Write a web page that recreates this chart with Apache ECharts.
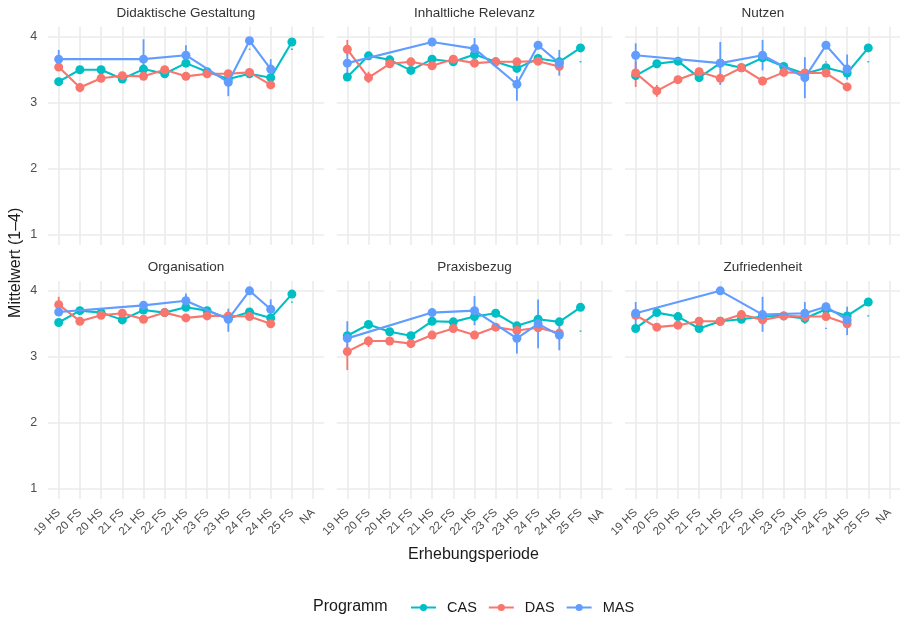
<!DOCTYPE html>
<html><head><meta charset="utf-8">
<script src="https://cdn.jsdelivr.net/npm/echarts@6/dist/echarts.min.js"></script>
<style>html,body{margin:0;padding:0;background:#fff}#c{width:900px;height:617px}</style>
</head><body><div id="c"></div>
<script>
// ---------- DATA ----------
const categories = ['19 HS','20 FS','20 HS','21 FS','21 HS','22 FS','22 HS','23 FS','23 HS','24 FS','24 HS','25 FS','NA'];
const programs = ['CAS','DAS','MAS'];
const facetTitles = ['Didaktische Gestaltung','Inhaltliche Relevanz','Nutzen','Organisation','Praxisbezug','Zufriedenheit'];
const yTicks = [1,2,3,4];

const didaktikCAS = [3.32,3.50,3.50,3.36,3.51,3.44,3.60,3.47,3.36,3.44,3.38,3.92,null];
const didaktikDAS = [3.54,3.23,3.37,3.41,3.40,3.50,3.40,3.44,3.44,3.46,3.27,null,null];
const didaktikMAS = [3.66,null,null,null,3.66,null,3.72,null,3.31,3.94,3.51,null,null];

const relevanzCAS = [3.39,3.71,3.65,3.49,3.66,3.62,3.73,3.62,3.52,3.67,3.62,3.83,null];
const relevanzDAS = [3.81,3.38,3.59,3.62,3.56,3.66,3.60,3.62,3.62,3.63,3.55,null,null];
const relevanzMAS = [3.60,null,null,null,3.92,null,3.82,null,3.28,3.87,3.60,null,null];

const nutzenCAS = [3.41,3.59,3.63,3.38,3.60,3.53,3.68,3.55,3.44,3.53,3.45,3.83,null];
const nutzenDAS = [3.45,3.18,3.35,3.47,3.37,3.53,3.33,3.46,3.45,3.45,3.24,null,null];
const nutzenMAS = [3.72,null,null,null,3.60,null,3.72,null,3.38,3.87,3.51,null,null];

const organisationCAS = [3.52,3.70,3.67,3.56,3.71,3.67,3.75,3.70,3.58,3.68,3.59,3.95,null];
const organisationDAS = [3.79,3.54,3.63,3.66,3.57,3.67,3.59,3.62,3.62,3.61,3.50,null,null];
const organisationMAS = [3.68,null,null,null,3.78,null,3.85,null,3.57,4.00,3.72,null,null];

const praxisCAS = [3.32,3.49,3.38,3.32,3.54,3.53,3.61,3.66,3.47,3.57,3.53,3.75,null];
const praxisDAS = [3.08,3.24,3.24,3.20,3.33,3.43,3.33,3.45,3.40,3.44,3.36,null,null];
const praxisMAS = [3.28,null,null,null,3.67,null,3.70,null,3.28,3.50,3.33,null,null];

const zufriedenCAS = [3.43,3.67,3.61,3.43,3.54,3.57,3.61,3.62,3.58,3.72,3.62,3.83,null];
const zufriedenDAS = [3.63,3.45,3.48,3.54,3.54,3.64,3.56,3.62,3.61,3.61,3.50,null,null];
const zufriedenMAS = [3.66,null,null,null,4.00,null,3.64,null,3.66,3.76,3.56,null,null];

// error bars: [program, category, lower, upper]
const didaktikErr = [['MAS','19 HS',3.55,3.80],['MAS','21 HS',3.39,3.96],['MAS','22 HS',3.60,3.87],['MAS','23 HS',3.10,3.42],['MAS','24 FS',3.80,3.82],['MAS','24 HS',3.37,3.66],['CAS','25 FS',3.80,3.82],['DAS','20 FS',3.16,3.30]];
const relevanzErr = [['MAS','19 HS',3.40,3.80],['MAS','22 HS',3.72,3.98],['MAS','23 HS',3.03,3.40],['MAS','24 HS',3.41,3.80],['DAS','19 HS',3.72,3.95],['DAS','20 FS',3.30,3.47],['CAS','19 HS',3.33,3.45],['CAS','21 HS',3.60,3.72],['CAS','25 FS',3.61,3.63]];
const nutzenErr = [['MAS','19 HS',3.35,3.90],['MAS','21 HS',3.27,3.92],['MAS','22 HS',3.49,3.95],['MAS','23 HS',3.07,3.69],['MAS','24 FS',3.61,3.63],['MAS','24 HS',3.35,3.73],['DAS','19 HS',3.24,3.62],['DAS','20 FS',3.09,3.27],['CAS','25 FS',3.61,3.63]];
const organisationErr = [['MAS','22 HS',3.75,3.96],['MAS','23 HS',3.38,3.73],['MAS','24 HS',3.61,3.87],['DAS','19 HS',3.66,3.91],['CAS','25 FS',3.82,3.84]];
const praxisErr = [['MAS','19 HS',3.15,3.54],['MAS','22 HS',3.48,3.92],['MAS','23 HS',3.05,3.45],['MAS','24 FS',3.13,3.87],['MAS','24 HS',3.10,3.48],['DAS','19 HS',2.80,3.20],['DAS','20 FS',3.15,3.31],['CAS','25 FS',3.38,3.40]];
const zufriedenErr = [['MAS','19 HS',3.48,3.83],['MAS','22 HS',3.38,3.91],['MAS','23 HS',3.50,3.83],['MAS','24 FS',3.42,3.44],['MAS','24 HS',3.33,3.76],['DAS','24 HS',3.45,3.55],['CAS','25 FS',3.61,3.63]];

// ---------- BUILD ----------
const panelValues = [
  [didaktikCAS, didaktikDAS, didaktikMAS],
  [relevanzCAS, relevanzDAS, relevanzMAS],
  [nutzenCAS, nutzenDAS, nutzenMAS],
  [organisationCAS, organisationDAS, organisationMAS],
  [praxisCAS, praxisDAS, praxisMAS],
  [zufriedenCAS, zufriedenDAS, zufriedenMAS]
];
const panelErrors = [didaktikErr, relevanzErr, nutzenErr, organisationErr, praxisErr, zufriedenErr];

const colors = {CAS:'#00BFC4', DAS:'#F8766D', MAS:'#619CFF'};
const FONT = '"Liberation Sans", Arial, sans-serif';
const colLeft = [48.1, 336.7, 625.1];
const gridW = 275.6;
const rowTop = [26.8, 280.9];
const gridH = 218;

const grids = [], xAxes = [], yAxes = [], series = [], graphics = [];
for (let p = 0; p < 6; p++) {
  const r = Math.floor(p / 3), c = p % 3;
  grids.push({left: colLeft[c], top: rowTop[r], width: gridW, height: gridH, containLabel: false});
  xAxes.push({
    type: 'category', gridIndex: p, data: categories, boundaryGap: true,
    axisLine: {show: false}, axisTick: {show: false, alignWithLabel: true},
    splitLine: {show: true, alignWithLabel: true, lineStyle: {color: '#ebebeb', width: 1.6}},
    axisLabel: {show: r === 1, rotate: 45, interval: 0, fontSize: 11.5, color: '#4d4d4d', fontFamily: FONT, margin: 12}
  });
  yAxes.push({
    type: 'value', gridIndex: p, min: 0.85, max: 4.15,
    axisLine: {show: false},
    axisTick: {show: false, customValues: yTicks},
    axisLabel: {show: c === 0, customValues: yTicks, fontSize: 12.5, color: '#4d4d4d', fontFamily: FONT, margin: 11},
    splitLine: {show: true, lineStyle: {color: '#ebebeb', width: 1.6}}
  });
  // error bars
  programs.forEach(prog => {
    const d = panelErrors[p].filter(e => e[0] === prog).map(e => [categories.indexOf(e[1]), e[2], e[3]]);
    series.push({
      type: 'custom', name: prog + ' Fehler', xAxisIndex: p, yAxisIndex: p, silent: true,
      encode: {x: 0, y: [1, 2]},
      renderItem: (params, api) => {
        const x = api.value(0);
        const a = api.coord([x, api.value(1)]);
        const b = api.coord([x, api.value(2)]);
        return {type: 'line', shape: {x1: a[0], y1: a[1], x2: b[0], y2: b[1]},
                style: {stroke: colors[prog], lineWidth: 1.8}};
      },
      data: d, z: 1
    });
  });
  programs.forEach((prog, k) => {
    series.push({
      type: 'line', name: prog, xAxisIndex: p, yAxisIndex: p,
      data: panelValues[p][k], connectNulls: true,
      symbol: 'circle', symbolSize: 9, showSymbol: true,
      lineStyle: {color: colors[prog], width: 2.1},
      itemStyle: {color: colors[prog]},
      emphasis: {disabled: true}, z: 2 + k
    });
  });
  graphics.push({
    type: 'text', x: colLeft[c] + gridW / 2, y: r === 0 ? 13.5 : 267.5,
    style: {text: facetTitles[p], font: '13.5px ' + FONT, fill: '#333333',
            textAlign: 'center', textVerticalAlign: 'middle', align: 'center', verticalAlign: 'middle'}
  });
}

graphics.push({
  type: 'text', x: 473.5, y: 555,
  style: {text: 'Erhebungsperiode', font: '16px ' + FONT, fill: '#1a1a1a',
          textAlign: 'center', textVerticalAlign: 'middle', align: 'center', verticalAlign: 'middle'}
});
graphics.push({
  type: 'text', x: 16, y: 262.8, rotation: Math.PI / 2,
  style: {text: 'Mittelwert (1–4)', font: '16px ' + FONT, fill: '#1a1a1a',
          textAlign: 'center', textVerticalAlign: 'middle', align: 'center', verticalAlign: 'middle'}
});
graphics.push({
  type: 'text', x: 313, y: 607,
  style: {text: 'Programm', font: '16px ' + FONT, fill: '#1a1a1a',
          textAlign: 'left', textVerticalAlign: 'middle', align: 'left', verticalAlign: 'middle'}
});

const chart = echarts.init(document.getElementById('c'), null, {renderer: 'canvas'});
chart.setOption({
  animation: false,
  backgroundColor: '#ffffff',
  grid: grids, xAxis: xAxes, yAxis: yAxes, series: series,
  legend: {
    data: programs, left: 410, top: 600, padding: 0, itemWidth: 25, itemHeight: 9, itemGap: 11,
    selectedMode: false,
    textStyle: {fontSize: 14.5, color: '#1a1a1a', fontFamily: FONT, padding: [0, 0, 0, 6]}
  },
  graphic: graphics
});
</script>
</body></html>
